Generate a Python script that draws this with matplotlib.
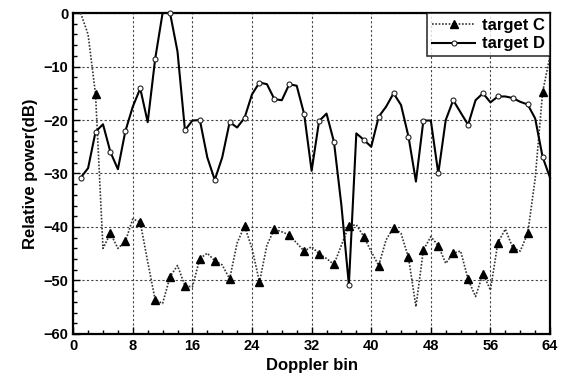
import matplotlib
matplotlib.use("Agg")
import matplotlib.pyplot as plt
from matplotlib.ticker import MultipleLocator

bins = list(range(1, 65))

target_c = [0, -4, -15.2, -44, -41.2, -44, -42.7, -38.5, -39.1, -46.5,
            -53.6, -54.3, -49.3, -47.2, -51, -51.2, -45.9, -44.9, -46.3, -47.1,
            -49.7, -43, -39.8, -44, -50.3, -43.4, -40.4, -40.9, -41.5, -43,
            -44.5, -43.7, -45, -45.9, -47, -43.4, -39.8, -39.6, -41.8, -44.6,
            -47.2, -42.4, -40.1, -41.2, -45.7, -54.9, -44.3, -41.8, -43.5, -46.8,
            -44.9, -44.5, -49.8, -53, -48.7, -51.8, -42.9, -40.4, -43.9, -44.5,
            -41.2, -31, -14.8, -8]

target_d = [-30.8, -29, -22.2, -20.8, -26.0, -29.2, -22.1, -17.5, -14.1, -20.4,
            -8.6, 0, 0, -7.2, -21.9, -20.1, -20, -27, -31.2, -27,
            -20.4, -21.4, -19.6, -15.2, -13, -13.3, -16.1, -16.3, -13.3, -13.6,
            -18.9, -29.5, -20.2, -18.8, -24.1, -36, -50.8, -22.5, -23.7, -25,
            -19.4, -17.5, -15, -17.2, -23.1, -31.5, -20.1, -20.1, -30, -20,
            -16.3, -18.6, -20.9, -16.3, -15.0, -16.7, -15.6, -15.6, -15.9, -16.6,
            -17.1, -19.7, -26.9, -30.8]

x_ticks = [0, 8, 16, 24, 32, 40, 48, 56, 64]
y_ticks = [-60, -50, -40, -30, -20, -10, 0]

plt.rcParams['font.family'] = ['Liberation Sans', 'DejaVu Sans']
plt.rcParams['font.weight'] = 'bold'

fig = plt.figure(figsize=(5.63, 3.83), dpi=100)
ax = fig.add_axes([0.130, 0.128, 0.847, 0.838])

ax.plot(bins, target_c, color='#333333', linestyle=(0, (1.0, 1.0)), linewidth=1.2,
        marker='^', markersize=5.5, markerfacecolor='black', markeredgecolor='black',
        markevery=slice(2, None, 2), label='target C', clip_on=False, zorder=3)
ax.plot(bins, target_d, color='black', linestyle='-', linewidth=1.5,
        marker='o', markersize=3.6, markerfacecolor='white', markeredgecolor='#222222',
        markeredgewidth=0.8, markevery=slice(0, None, 2), label='target D',
        clip_on=False, zorder=4)

ax.set_xlim(0, 64)
ax.set_ylim(-60, 0)
ax.set_xticks(x_ticks)
ax.set_yticks(y_ticks)
ax.xaxis.set_minor_locator(MultipleLocator(2))
ax.yaxis.set_minor_locator(MultipleLocator(2))
ax.tick_params(axis='both', which='both', direction='in', top=False, right=False,
               labelsize=10.5, width=1, colors='black')
ax.tick_params(which='major', length=5)
ax.tick_params(which='minor', length=3)
for lab in ax.get_xticklabels() + ax.get_yticklabels():
    lab.set_fontweight('bold')

ax.grid(True, which='major', color='#444444', linestyle=(0, (2, 2)), linewidth=0.8)
for s in ax.spines.values():
    s.set_linewidth(1.6)
    s.set_color('black')

ax.set_xlabel('Doppler bin', fontsize=12, fontweight='bold', labelpad=4)
ax.set_ylabel('Relative power(dB)', fontsize=12, fontweight='bold', labelpad=4)

leg = ax.legend(loc='upper right', frameon=True, fancybox=False, shadow=False,
                fontsize=12, borderaxespad=0, handlelength=2.6,
                borderpad=0.3, labelspacing=0.2, handletextpad=0.4)
leg.get_frame().set_edgecolor('black')
leg.get_frame().set_linewidth(1.2)
for t in leg.get_texts():
    t.set_fontweight('bold')

fig.savefig('out.png', dpi=100)
